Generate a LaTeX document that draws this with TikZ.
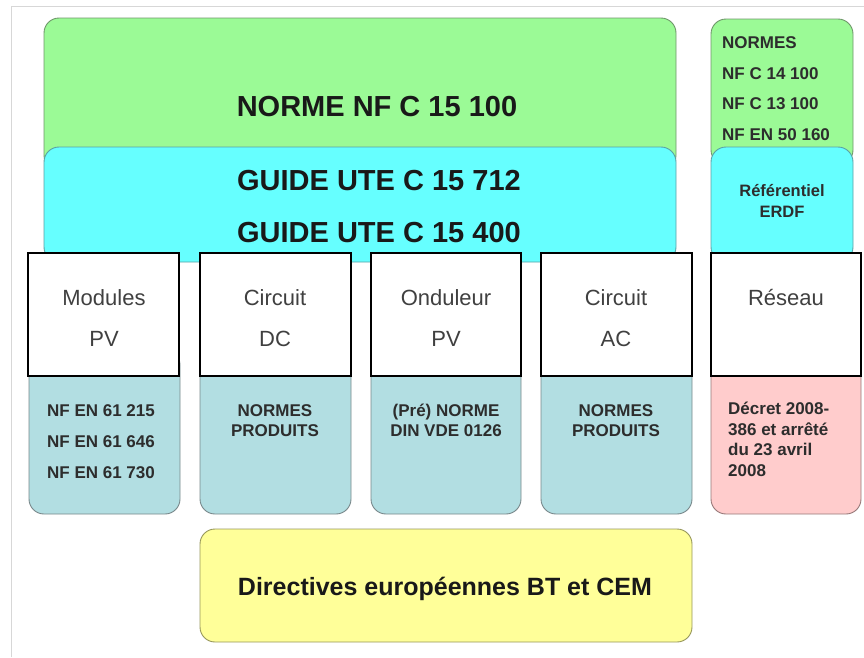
\documentclass[tikz,border=0pt]{standalone}
\usepackage{fontspec}
\setmainfont{Liberation Sans}
\definecolor{normgreen}{RGB}{155,250,150}
\definecolor{normgreenline}{RGB}{110,150,105}
\definecolor{guidecyan}{RGB}{102,255,255}
\definecolor{guidecyanline}{RGB}{90,160,165}
\definecolor{prodblue}{RGB}{178,222,226}
\definecolor{prodblueline}{RGB}{120,135,138}
\definecolor{decretpink}{RGB}{255,204,204}
\definecolor{decretpinkline}{RGB}{150,120,120}
\definecolor{dirlyellow}{RGB}{255,255,153}
\definecolor{dirlyellowline}{RGB}{150,150,90}
\definecolor{labelgray}{RGB}{64,64,64}
\definecolor{smalltext}{RGB}{45,45,45}
\definecolor{framegray}{RGB}{215,215,215}
\tikzset{
  x=1pt, y=-1pt,
  roundbox/.style={rounded corners=15pt, line width=0.9pt},
  greenbox/.style={roundbox, fill=normgreen, draw=normgreenline},
  cyanbox/.style={roundbox, fill=guidecyan, draw=guidecyanline},
  bluebox/.style={roundbox, fill=prodblue, draw=prodblueline},
  pinkbox/.style={roundbox, fill=decretpink, draw=decretpinkline},
  yellowbox/.style={roundbox, fill=dirlyellow, draw=dirlyellowline},
  partbox/.style={fill=white, draw=black, line width=2.6pt},
  % text height = cap height, so the node centre sits on the middle of the capitals
  txt/.style={inner sep=0pt, text depth=0pt},
  title/.style={txt, text height=20.8pt, font=\fontsize{29}{29}\selectfont\bfseries, text=black!90},
  part/.style={txt, text height=15.75pt, font=\fontsize{22}{22}\selectfont, text=labelgray},
  small/.style={txt, text height=12.2pt, font=\fontsize{17}{17}\selectfont\bfseries, text=smalltext},
  smallleft/.style={small, anchor=west},
  dirtext/.style={txt, text height=17.9pt, font=\fontsize{25}{25}\selectfont\bfseries, text=black!90},
}
\begin{document}
\begin{tikzpicture}
\useasboundingbox (0,0) rectangle (864,657);
% thin outer frame
\draw[framegray, line width=0.8pt] (11,657) -- (11,6) -- (864,6);

% standards layers
\draw[greenbox] (44,18) rectangle (676,170);
\draw[cyanbox] (44,147) rectangle (676,262);
\draw[greenbox] (711,19) rectangle (853,165);
\draw[cyanbox] (711,147) rectangle (853,262);

% product standards under each part
\draw[bluebox] (29,350) rectangle (180,514);
\draw[bluebox] (200,350) rectangle (351,514);
\draw[bluebox] (371,350) rectangle (521,514);
\draw[bluebox] (541,350) rectangle (692,514);
\draw[pinkbox] (711,350) rectangle (861,514);

% installation parts
\draw[partbox] (28,253) rectangle (179,376);
\draw[partbox] (200,253) rectangle (351,376);
\draw[partbox] (371,253) rectangle (521,376);
\draw[partbox] (541,253) rectangle (692,376);
\draw[partbox] (711,253) rectangle (861,376);

% european directives
\draw[yellowbox] (200,529) rectangle (692,642);

% texts
\node[title] (nfc) at (377,106) {NORME NF C 15 100};
\node[title] (ute712) at (379,180) {GUIDE UTE C 15 712};
\node[title] (ute400) at (379,232) {GUIDE UTE C 15 400};

\node[smallleft] (rn1) at (722,42) {NORMES};
\node[smallleft] (rn2) at (722,73) {NF C 14 100};
\node[smallleft] (rn3) at (722,103) {NF C 13 100};
\node[smallleft] (rn4) at (722,134) {NF EN 50 160};
\node[small, font=\fontsize{16.5}{16.5}\selectfont\bfseries] (erdf1) at (782,190) {Référentiel};
\node[small, font=\fontsize{16.5}{16.5}\selectfont\bfseries] (erdf2) at (782,211) {ERDF};

\node[part] (mod1) at (104,298) {Modules};
\node[part] (mod2) at (104,339) {PV};
\node[part] (dc1) at (275,298) {Circuit};
\node[part] (dc2) at (275,339) {DC};
\node[part] (ond1) at (446,298) {Onduleur};
\node[part] (ond2) at (446,339) {PV};
\node[part] (ac1) at (616,298) {Circuit};
\node[part] (ac2) at (616,339) {AC};
\node[part] (res) at (786,298) {Réseau};

\node[small] (m1) at (101,410) {NF EN 61 215};
\node[small] (m2) at (101,441) {NF EN 61 646};
\node[small] (m3) at (101,472) {NF EN 61 730};
\node[small] (p1) at (275,410) {NORMES};
\node[small] (p2) at (275,430) {PRODUITS};
\node[small] (o1) at (446,410) {(Pré) NORME};
\node[small] (o2) at (446,430) {DIN VDE 0126};
\node[small] (q1) at (616,410) {NORMES};
\node[small] (q2) at (616,430) {PRODUITS};
\node[smallleft] (d1) at (728,408) {Décret 2008-};
\node[smallleft] (d2) at (728,429) {386 et arrêté};
\node[smallleft] (d3) at (728,449) {du 23 avril};
\node[smallleft] (d4) at (728,470) {2008};

\node[dirtext] (dir) at (445,587) {Directives européennes BT et CEM};
\end{tikzpicture}
\end{document}
